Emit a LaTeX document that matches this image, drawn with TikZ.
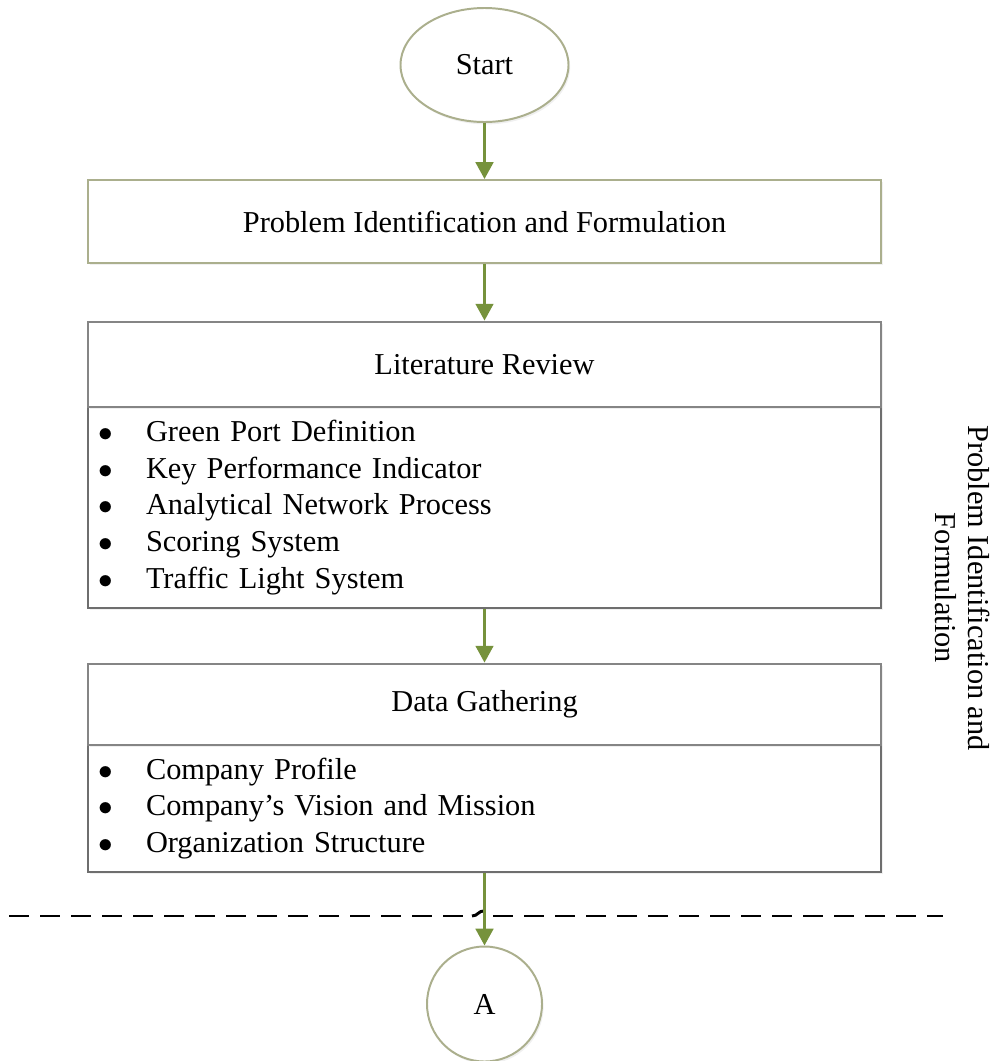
\documentclass[tikz,border=0pt]{standalone}
\usepackage{fontspec}
\setmainfont{Liberation Serif}
\usetikzlibrary{shapes.geometric, arrows.meta, shadows, positioning}
\definecolor{arrowgreen}{HTML}{76923C}
\definecolor{paleline}{HTML}{ABAF8D}
\definecolor{headline}{HTML}{858585}
\definecolor{bodyline}{HTML}{6E6E6E}
\newcommand{\bul}[1]{\makebox[1.2cm][l]{$\bullet$}#1}

\begin{document}
\begin{tikzpicture}[font=\fontsize{21.6}{26}\selectfont,
	soft/.style={drop shadow={opacity=0.12, shadow xshift=0.04cm, shadow yshift=-0.06cm}},
	terminal/.style={draw=paleline, line width=1.4pt, fill=white, inner sep=0pt, soft},
	titlebox/.style={draw=headline, line width=2pt, fill=white, minimum width=19.825cm, inner sep=0pt, soft},
	listbox/.style={draw=bodyline, line width=1.3pt, fill=white, text width=19.325cm, inner xsep=0.25cm, inner ysep=0pt, align=left, soft},
	flow/.style={draw=arrowgreen, line width=2pt, -{Triangle[length=0.42cm, width=0.44cm]}, fill=arrowgreen}]
	\useasboundingbox (0,0) rectangle (25.025,-26.525);

	\draw (12.1125,-1.625) node[terminal, ellipse, minimum width=4.2cm, minimum height=2.85cm] (start) {Start}
		(12.1125,-5.5375) node[terminal, minimum width=19.825cm, minimum height=2.075cm] (problem) {Problem Identification and Formulation}
		(12.1125,-12.6875) node[listbox, minimum height=5.025cm] (litbody) {\bul{Green Port Definition}\\
			\bul{Key Performance Indicator}\\
			\bul{Analytical Network Process}\\
			\bul{Scoring System}\\
			\bul{Traffic Light System}}
		(12.1125,-9.1125) node[titlebox, minimum height=2.125cm] (lithead) {Literature Review}
		(12.1125,-20.2125) node[listbox, minimum height=3.175cm] (databody) {\bul{Company Profile}\\
			\bul{Company’s Vision and Mission}\\
			\bul{Organization Structure}}
		(12.1125,-17.6125) node[titlebox, minimum height=2.025cm] (datahead) {Data Gathering}
		(12.1125,-25.1) node[terminal, circle, minimum size=2.875cm] (conn) {A};

	\draw (24.07,-14.7) node[rotate=-90, align=center, font=\fontsize{21.6}{23.5}\selectfont] (phase) {Problem Identification and\\Formulation};

	% phase divider with a small hop over the connector
	\coordinate (divl) at (0.225,-22.9);
	\coordinate (hopa) at (11.8,-22.9);
	\coordinate (hopb) at (12.1125,-22.77);
	\coordinate (hopc) at (12.33,-22.9);
	\coordinate (divr) at (23.575,-22.9);
	\draw[line width=2.1pt, dash pattern=on 0.5cm off 0.275cm] (divl) -- (hopa);
	\draw[line width=2.1pt] (hopa) .. controls (11.95,-22.9) and (11.95,-22.77) .. (hopb);
	\draw[line width=2.1pt, dash pattern=on 0.5cm off 0.275cm] (hopc) -- (divr);

	\draw[flow] (start) -- (problem);
	\draw[flow] (problem) -- (lithead);
	\draw[flow] (litbody) -- (datahead);
	\draw[flow] (databody) -- (conn);
\end{tikzpicture}
\end{document}
